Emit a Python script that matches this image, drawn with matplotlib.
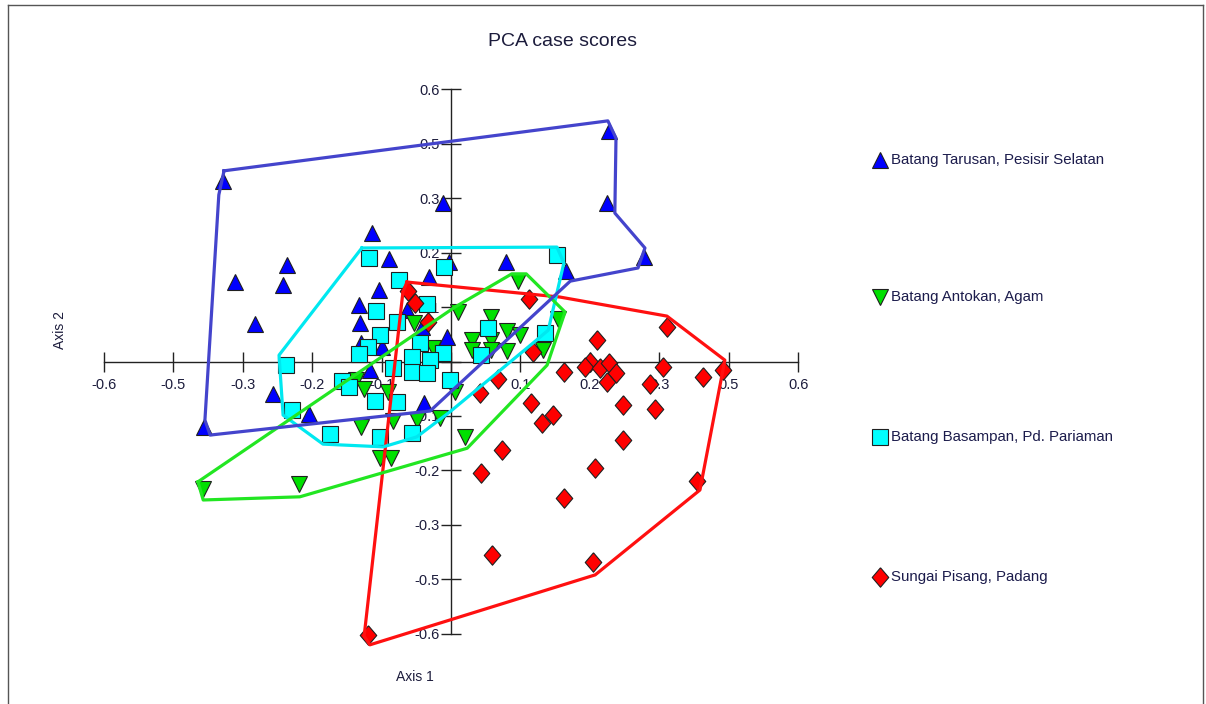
import numpy as np
import matplotlib.pyplot as plt
from matplotlib.lines import Line2D

plt.rcParams['font.family'] = ['Liberation Sans', 'DejaVu Sans']

# PCA case scores (axis 1, axis 2)
tarusan_x = [-0.394, 0.273, 0.269, 0.333, 0.199, -0.014, -0.136, -0.373, -0.283, -0.290,
             -0.339, -0.107, -0.427, -0.307, -0.245, -0.047, -0.038, -0.124, -0.159, -0.157,
             -0.076, -0.050, -0.007, -0.155, -0.140, 0.095, -0.003, -0.119]
tarusan_y = [0.398, 0.508, 0.349, 0.230, 0.199, 0.349, 0.283, 0.175, 0.213, 0.169,
             0.083, 0.226, -0.144, -0.072, -0.116, -0.091, 0.186, 0.157, 0.124, 0.085,
             0.113, 0.076, 0.054, 0.041, -0.019, 0.219, 0.219, 0.032]

antokan_x = [-0.428, -0.263, -0.164, -0.150, -0.155, -0.123, -0.104, -0.109, -0.100, -0.059,
             -0.019, 0.007, 0.024, 0.012, 0.069, 0.116, 0.185, 0.036, 0.069, 0.097,
             0.119, 0.036, 0.069, 0.097, 0.159, -0.064, -0.031]
antokan_y = [-0.281, -0.270, -0.041, -0.061, -0.144, -0.213, -0.213, -0.067, -0.131, -0.129,
             -0.124, -0.067, -0.166, 0.109, 0.098, 0.177, 0.094, 0.047, 0.047, 0.067,
             0.058, 0.025, 0.025, 0.023, 0.025, 0.085, 0.030]

basampan_x = [-0.142, -0.090, -0.012, 0.183, -0.130, -0.041, -0.093, -0.123, -0.054, -0.143,
              -0.159, -0.014, -0.067, -0.036, 0.064, 0.162, 0.052, -0.285, -0.188, -0.176,
              -0.100, -0.067, -0.041, -0.002, -0.131, -0.093, -0.275, -0.209, -0.123, -0.067]
basampan_y = [0.228, 0.180, 0.208, 0.235, 0.111, 0.127, 0.087, 0.058, 0.041, 0.032,
              0.017, 0.019, 0.010, 0.003, 0.074, 0.063, 0.014, -0.008, -0.043, -0.056,
              -0.014, -0.023, -0.025, -0.041, -0.087, -0.089, -0.107, -0.160, -0.166, -0.157]

pisang_x = [-0.074, -0.062, -0.040, 0.135, 0.142, 0.081, 0.050, 0.195, 0.252, 0.240,
            0.231, 0.257, 0.273, 0.285, 0.269, 0.373, 0.366, 0.344, 0.435, 0.470,
            0.297, 0.352, 0.138, 0.176, 0.157, 0.297, 0.249, 0.425, 0.195, 0.088,
            0.052, 0.071, 0.245, -0.143]
pisang_y = [0.155, 0.129, 0.087, 0.138, 0.021, -0.039, -0.069, -0.023, 0.047, -0.001,
            -0.012, -0.014, -0.003, -0.025, -0.045, 0.076, -0.012, -0.050, -0.034, -0.019,
            -0.096, -0.105, -0.091, -0.118, -0.135, -0.173, -0.235, -0.263, -0.301, -0.195,
            -0.246, -0.426, -0.442, -0.602]

# hull outlines as drawn
tarusan_hull_x = [-0.392, 0.271, 0.285, 0.283, 0.335, 0.323, 0.206, -0.036, -0.416, -0.425, -0.401]
tarusan_hull_y = [0.420, 0.530, 0.492, 0.327, 0.250, 0.206, 0.177, -0.109, -0.162, -0.129, 0.367]
antokan_hull_x = [-0.437, 0.007, 0.105, 0.130, 0.197, 0.166, 0.028, -0.261, -0.428]
antokan_hull_y = [-0.265, 0.120, 0.193, 0.193, 0.109, -0.008, -0.191, -0.298, -0.305]
basampan_hull_x = [-0.154, 0.183, 0.195, 0.168, 0.142, -0.002, -0.059, -0.117, -0.221, -0.290, -0.297]
basampan_hull_y = [0.250, 0.252, 0.217, 0.069, 0.041, -0.111, -0.166, -0.188, -0.182, -0.118, 0.014]
pisang_hull_x = [-0.076, 0.188, 0.373, 0.473, 0.430, 0.249, -0.140, -0.150, -0.083]
pisang_hull_y = [0.175, 0.142, 0.100, 0.003, -0.283, -0.470, -0.624, -0.605, 0.153]

names = ['Batang Tarusan, Pesisir Selatan', 'Batang Antokan, Agam',
         'Batang Basampan, Pd. Pariaman', 'Sungai Pisang, Padang']
tick_labels = ['-0.6', '-0.5', '-0.3', '-0.2', '-0.1', '', '0.1', '0.2', '0.3', '0.5', '0.6']

diamond = [(0, 1), (0.85, 0), (0, -1), (-0.85, 0), (0, 1)]
groups = [
    (tarusan_x, tarusan_y, tarusan_hull_x, tarusan_hull_y, '^', '#0000ff', '#4444cc', 12),
    (antokan_x, antokan_y, antokan_hull_x, antokan_hull_y, 'v', '#00e000', '#22e622', 12),
    (basampan_x, basampan_y, basampan_hull_x, basampan_hull_y, 's', '#00ffff', '#00e8f0', 11.5),
    (pisang_x, pisang_y, pisang_hull_x, pisang_hull_y, diamond, '#ff0000', '#ff1010', 14),
]

fig = plt.figure(figsize=(12.06, 7.04), dpi=100)
ax = fig.add_axes([0.0619, 0.0673, 0.6241, 0.8384])
ax.set_xlim(-0.65, 0.65)
ax.set_ylim(-0.65, 0.65)

for gx, gy, hx, hy, m, fc, lc, ms in groups:
    ax.plot(gx, gy, linestyle='none', marker=m, ms=ms, mfc=fc, mec='#202020', mew=0.8, zorder=3)
for gx, gy, hx, hy, m, fc, lc, ms in groups[::-1]:
    ax.plot(hx + hx[:1], hy + hy[:1], color=lc, lw=2.3, zorder=4)

ticks = np.linspace(-0.6, 0.6, 11)
for side in ['top', 'right']:
    ax.spines[side].set_visible(False)
for side in ['left', 'bottom']:
    ax.spines[side].set_position(('data', 0))
    ax.spines[side].set_bounds(-0.6, 0.6)
    ax.spines[side].set_color('#222222')
    ax.spines[side].set_linewidth(1)
ax.set_xticks(ticks)
ax.set_yticks(ticks)
ax.set_xticklabels(tick_labels)
ax.set_yticklabels(tick_labels)
ax.tick_params(axis='both', direction='inout', length=14, width=1, color='#222222',
               labelsize=10.5, labelcolor='#1c1c3c')
ax.tick_params(axis='x', pad=5)
ax.tick_params(axis='y', pad=1)
ax.patch.set_visible(False)

fig.text(562 / 1206, 1 - 42 / 704, 'PCA case scores', fontsize=14, ha='center', va='center', color='#1c1c3c')
fig.text(415 / 1206, 1 - 677 / 704, 'Axis 1', fontsize=10, ha='center', va='center', color='#1c1c3c')
fig.text(60 / 1206, 1 - 330 / 704, 'Axis 2', fontsize=10, ha='center', va='center',
         rotation=90, color='#1c1c3c')

# legend on the right
leg_y = [160, 297, 437, 577]
for (gx, gy, hx, hy, m, fc, lc, ms), name, py in zip(groups, names, leg_y):
    fig.add_artist(Line2D([880 / 1206], [1 - py / 704], marker=m, ms=ms, mfc=fc,
                          mec='#202020', mew=0.8, linestyle='none'))
    fig.text(891 / 1206, 1 - py / 704, name, fontsize=10.8, ha='left', va='center', color='#1c1c4c')

# frame around the picture
fig.add_artist(Line2D([8 / 1206, 8 / 1206], [0, 1 - 5 / 704], color='#555555', lw=1))
fig.add_artist(Line2D([8 / 1206, 1203 / 1206], [1 - 5 / 704, 1 - 5 / 704], color='#555555', lw=1))
fig.add_artist(Line2D([1203 / 1206, 1203 / 1206], [0, 1 - 5 / 704], color='#555555', lw=1))

fig.savefig('out.png', dpi=100)
